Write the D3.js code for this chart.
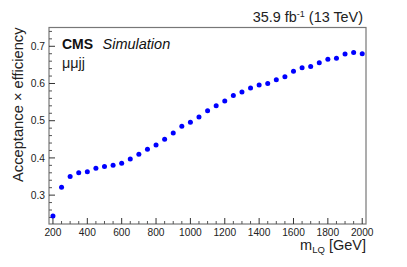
<!DOCTYPE html>
<html>
<head>
<meta charset="utf-8">
<script src="https://cdn.jsdelivr.net/npm/d3@7"></script>
<style>
html,body{margin:0;padding:0;background:#fff;}
svg{display:block;font-family:"Liberation Sans",Arial,sans-serif;}
</style>
</head>
<body>
<svg id="chart" width="407" height="267"></svg>
<script>
const masses = [200,250,300,350,400,450,500,550,600,650,700,750,800,850,900,950,1000,1050,1100,1150,1200,1250,1300,1350,1400,1450,1500,1550,1600,1650,1700,1750,1800,1850,1900,1950,2000];
const accEff = [0.244,0.321,0.350,0.360,0.363,0.372,0.377,0.380,0.386,0.397,0.410,0.423,0.435,0.450,0.467,0.485,0.496,0.510,0.527,0.540,0.553,0.568,0.577,0.588,0.596,0.600,0.610,0.618,0.633,0.642,0.646,0.656,0.665,0.668,0.679,0.683,0.680];
const xTicks = [200,400,600,800,1000,1200,1400,1600,1800,2000];
const yTicks = [0.3,0.4,0.5,0.6,0.7];
const xMinor = d3.range(200,2001,50);
const yMinor = d3.range(0.24,0.75,0.02);

const L=49, R=366, T=27.5, B=224;
const svg = d3.select("#chart");
const x = d3.scaleLinear().domain([177,2022]).range([L,R]);
const y = d3.scaleLinear().domain([0.2224,0.7505]).range([B,T]);

// frame
svg.append("rect").attr("x",L).attr("y",T).attr("width",R-L).attr("height",B-T)
  .attr("fill","none").attr("stroke","#777").attr("stroke-width",1.2);

// y ticks
const gy = svg.append("g");
gy.selectAll("line.maj").data(yTicks).join("line")
  .attr("x1",L).attr("x2",L+6).attr("y1",d=>y(d)).attr("y2",d=>y(d))
  .attr("stroke","#333").attr("stroke-width",1);
gy.selectAll("line.min").data(yMinor.filter(v=>!yTicks.some(t=>Math.abs(t-v)<1e-6))).join("line")
  .attr("x1",L).attr("x2",L+3).attr("y1",d=>y(d)).attr("y2",d=>y(d))
  .attr("stroke","#555").attr("stroke-width",1);
gy.selectAll("text").data(yTicks).join("text")
  .attr("x",L-4).attr("y",d=>y(d)).attr("dy","0.36em").attr("text-anchor","end")
  .attr("font-size","10.3px").attr("fill","#222").text(d=>d.toFixed(1));

// x ticks
const gx = svg.append("g");
gx.selectAll("line.maj").data(xTicks).join("line")
  .attr("x1",d=>x(d)).attr("x2",d=>x(d)).attr("y1",B).attr("y2",B-6)
  .attr("stroke","#333").attr("stroke-width",1);
gx.selectAll("line.min").data(xMinor.filter(v=>!xTicks.includes(v))).join("line")
  .attr("x1",d=>x(d)).attr("x2",d=>x(d)).attr("y1",B).attr("y2",B-3)
  .attr("stroke","#555").attr("stroke-width",1);
gx.selectAll("text").data(xTicks).join("text")
  .attr("x",d=>x(d)).attr("y",235.5).attr("text-anchor","middle")
  .attr("font-size","10.2px").attr("fill","#222").text(d=>d);

// points
svg.append("g").selectAll("circle").data(masses.map((m,i)=>[m,accEff[i]])).join("circle")
  .attr("cx",d=>x(d[0])).attr("cy",d=>y(d[1])).attr("r",2.5).attr("fill","#0000ff");

// titles
const xt = svg.append("text").attr("x",R).attr("y",250).attr("text-anchor","end")
  .attr("font-size","14.5px").attr("fill","#222");
xt.append("tspan").text("m");
xt.append("tspan").attr("font-size","9.5px").attr("dy","3").text("LQ");
xt.append("tspan").attr("dy","-3").text(" [GeV]");

svg.append("text").attr("transform","translate(23,"+T+") rotate(-90)")
  .attr("text-anchor","end").attr("font-size","14.7px").attr("fill","#222")
  .text("Acceptance \u00d7 efficiency");

const lt = svg.append("text").attr("x",363).attr("y",22).attr("text-anchor","end")
  .attr("font-size","14.4px").attr("fill","#222");
lt.append("tspan").text("35.9 fb");
lt.append("tspan").attr("font-size","9px").attr("dy","-5.5").text("-1");
lt.append("tspan").attr("dy","5.5").text(" (13 TeV)");

svg.append("text").attr("x",62).attr("y",48.7).attr("font-size","14px")
  .attr("font-weight","bold").attr("fill","#111").text("CMS");
svg.append("text").attr("x",102.5).attr("y",48.7).attr("font-size","14.5px")
  .attr("font-style","italic").attr("fill","#111").text("Simulation");
svg.append("text").attr("x",62).attr("y",68).attr("font-size","14.4px")
  .attr("fill","#222").text("\u03bc\u03bcjj");
</script>
</body>
</html>
